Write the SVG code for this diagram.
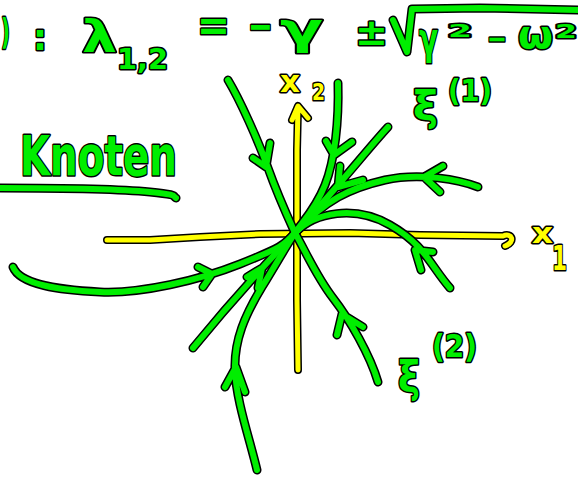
<svg xmlns="http://www.w3.org/2000/svg" xmlns:xlink="http://www.w3.org/1999/xlink" width="578" height="478" viewBox="0 0 578 478">
<style>
  .ol { fill: none; stroke: #000; stroke-width: 9; stroke-linecap: round; stroke-linejoin: round; }
  .gr { fill: none; stroke: #00ee00; stroke-width: 6; stroke-linecap: round; stroke-linejoin: round; }
  .yol { fill: none; stroke: #000; stroke-width: 8; stroke-linecap: round; stroke-linejoin: round; }
  .ye { fill: none; stroke: #ffff00; stroke-width: 5; stroke-linecap: round; stroke-linejoin: round; }
  text { font-family: "DejaVu Sans", "Liberation Sans", sans-serif; font-weight: bold; paint-order: stroke; stroke: #000; stroke-width: 3; stroke-linejoin: round; }
  .tg { fill: #00ee00; }
  .ty { fill: #ffff00; }
</style>
<defs>
  <path id="xaxis" d="M107,240 L150,240 L200,237 L260,234 L350,233 L420,235 L503,236 C512,232 516,242 505,246"/>
  <path id="yaxis" d="M298,370 L297,300 L297,233 L297,150 L298,107 M292,120 L298,106 L308,118"/>
  <path id="t1" d="M228,80 C240,100 258,140 268,168 S290,222 295,233 M253,158 L266,167 L270,143"/>
  <path id="t2" d="M338,83 C339,120 335,160 325,185 S302,222 295,233 M326,141 L334,155 L352,142"/>
  <path id="t3" d="M388,127 C365,152 340,185 295,233 M340,166 L338,187 L363,180"/>
  <path id="t4" d="M478,187 C460,180 420,172 385,180 S325,200 295,233 M443,166 L424,177 L440,192"/>
  <path id="t5" d="M295,233 C315,212 355,205 390,225 S430,265 450,288 M433,252 L415,250 L421,270"/>
  <path id="t6" d="M13,267 C20,285 60,290 100,292 S200,280 240,264 S285,245 295,233 M198,267 L212,274 L203,287"/>
  <path id="t7" d="M193,348 C220,315 250,280 295,233 M247,277 L262,268 L258,288"/>
  <path id="t8" d="M257,470 C250,440 236,400 235,370 S245,315 262,287 S290,240 295,233 M225,387 L236,367 L245,392"/>
  <path id="t9" d="M378,382 C370,355 350,320 333,298 S305,250 295,233 M337,335 L342,314 L363,327"/>
  <path id="uline" d="M0,188 C60,188 120,189 150,192 S172,196 176,198"/>
  <path id="sqrt" d="M393,20 L407,52 L412,9 L480,8 L578,10"/>
</defs>

<g id="axes">
  <use xlink:href="#xaxis" class="yol"/>
  <use xlink:href="#yaxis" class="yol"/>
  <use xlink:href="#xaxis" class="ye"/>
  <use xlink:href="#yaxis" class="ye"/>
</g>

<g id="connectors">
  <use xlink:href="#t1" class="ol"/>
  <use xlink:href="#t2" class="ol"/>
  <use xlink:href="#t3" class="ol"/>
  <use xlink:href="#t4" class="ol"/>
  <use xlink:href="#t5" class="ol"/>
  <use xlink:href="#t6" class="ol"/>
  <use xlink:href="#t7" class="ol"/>
  <use xlink:href="#t8" class="ol"/>
  <use xlink:href="#t9" class="ol"/>
  <use xlink:href="#t1" class="gr"/>
  <use xlink:href="#t2" class="gr"/>
  <use xlink:href="#t3" class="gr"/>
  <use xlink:href="#t4" class="gr"/>
  <use xlink:href="#t5" class="gr"/>
  <use xlink:href="#t6" class="gr"/>
  <use xlink:href="#t7" class="gr"/>
  <use xlink:href="#t8" class="gr"/>
  <use xlink:href="#t9" class="gr"/>
</g>

<g id="formula">
  <text class="tg" x="1" y="44" font-size="36" textLength="9" lengthAdjust="spacingAndGlyphs">)</text>
  <text class="tg" x="33" y="50" font-size="35">:</text>
  <text class="tg" x="82" y="52" font-size="44" textLength="35" lengthAdjust="spacingAndGlyphs">λ</text>
  <text class="tg" x="117" y="69" font-size="28" textLength="51" lengthAdjust="spacingAndGlyphs">1,2</text>
  <text class="tg" x="197" y="40" font-size="44" textLength="33" lengthAdjust="spacingAndGlyphs">=</text>
  <text class="tg" x="248" y="40" font-size="40" textLength="25" lengthAdjust="spacingAndGlyphs">−</text>
  <text class="tg" x="280" y="44" font-size="44" textLength="43" lengthAdjust="spacingAndGlyphs">γ</text>
  <text class="tg" x="355" y="45" font-size="37" textLength="33" lengthAdjust="spacingAndGlyphs">±</text>
  <use xlink:href="#sqrt" class="ol"/>
  <use xlink:href="#sqrt" class="gr"/>
  <text class="tg" x="419" y="54" font-size="44" textLength="19" lengthAdjust="spacingAndGlyphs">γ</text>
  <text class="tg" x="448" y="37" font-size="18" textLength="24" lengthAdjust="spacingAndGlyphs">2</text>
  <text class="tg" x="487" y="49" font-size="30" textLength="20" lengthAdjust="spacingAndGlyphs">−</text>
  <text class="tg" x="518" y="48" font-size="37" textLength="35" lengthAdjust="spacingAndGlyphs">ω</text>
  <text class="tg" x="555" y="38" font-size="20" textLength="22" lengthAdjust="spacingAndGlyphs">2</text>
</g>

<g id="knoten">
  <text class="tg" x="20" y="175" font-size="55" textLength="157" lengthAdjust="spacingAndGlyphs">Knoten</text>
  <use xlink:href="#uline" class="ol"/>
  <use xlink:href="#uline" class="gr"/>
</g>

<g id="label-x2">
  <text class="ty" x="280" y="92" font-size="31" textLength="20" lengthAdjust="spacingAndGlyphs">x</text>
  <text class="ty" x="312" y="100" font-size="23" textLength="13" lengthAdjust="spacingAndGlyphs">2</text>
</g>

<g id="label-x1">
  <text class="ty" x="532" y="243" font-size="29" textLength="21" lengthAdjust="spacingAndGlyphs">x</text>
  <text class="ty" x="552" y="270" font-size="34" textLength="15" lengthAdjust="spacingAndGlyphs">1</text>
</g>

<g id="label-xi1">
  <text class="tg" x="413" y="120" font-size="40" textLength="25" lengthAdjust="spacingAndGlyphs">ξ</text>
  <text class="tg" x="448" y="101" font-size="30" textLength="44" lengthAdjust="spacingAndGlyphs">(1)</text>
</g>

<g id="label-xi2">
  <text class="tg" x="398" y="392" font-size="42" textLength="22" lengthAdjust="spacingAndGlyphs">ξ</text>
  <text class="tg" x="432" y="357" font-size="32" textLength="45" lengthAdjust="spacingAndGlyphs">(2)</text>
</g>
</svg>
